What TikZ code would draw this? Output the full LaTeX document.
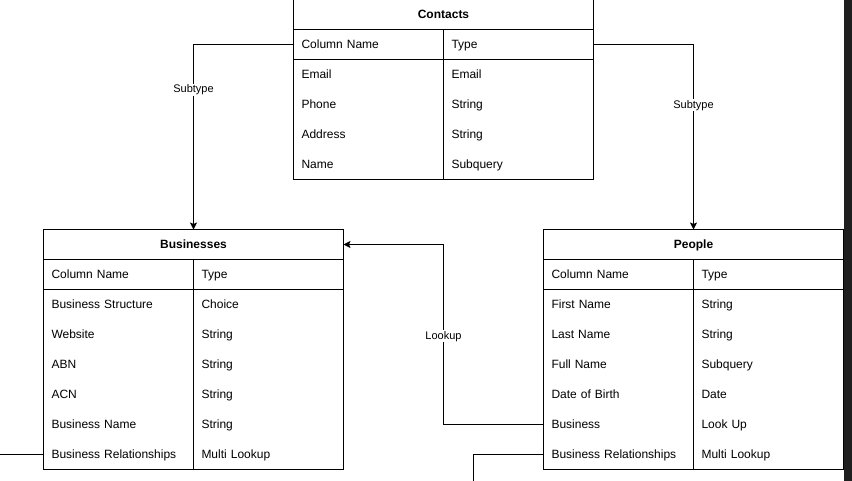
\documentclass[tikz,border=0pt]{standalone}
\usepackage{fontspec}
\setmainfont{Liberation Sans}
\usetikzlibrary{arrows.meta}
\definecolor{barcol}{HTML}{1F1F1F}
\newcommand{\cellstrut}{\rule[-2.4pt]{0pt}{13.4pt}}
\tikzset{
  every path/.style={line width=1pt},
  titlecell/.style={minimum width=300pt, minimum height=30pt, inner sep=0pt, outer sep=0pt, font=\fontsize{12}{14}\selectfont\bfseries, execute at begin node=\cellstrut},
  cell/.style={minimum width=150pt, minimum height=30pt, inner xsep=8pt, inner ysep=0pt, outer sep=0pt, text width=134pt, align=left, anchor=north west, font=\fontsize{12}{14}\selectfont, execute at begin node=\cellstrut},
  conn/.style={draw=black, line width=1pt, -{Stealth[length=7pt,width=7pt,inset=1.5pt]}},
  wire/.style={draw=black, line width=1pt},
  lbl/.style={fill=white, inner sep=1pt, font=\fontsize{11}{13}\selectfont}
}
\newcommand{\erdtable}[5]{%
  \node[titlecell] (#1) at (#2+150,#3+15) {#4};
  \node[cell] (#1-0-l) at (#2,#3+30) {Column Name};
  \node[cell] (#1-0-r) at (#2+150,#3+30) {Type};
  \foreach \a/\b [count=\i] in {#5} {
    \node[cell] (#1-\i-l) at (#2,#3+30+30*\i) {\a};
    \node[cell] (#1-\i-r) at (#2+150,#3+30+30*\i) {\b};
    \xdef\lastrow{\i}
  }
  \draw (#1.north west) rectangle (#1-\lastrow-r.south east);
  \draw (#1.south west) -- (#1.south east);
  \draw (#1-0-l.south west) -- (#1-0-r.south east);
  \draw (#1-0-r.north west) -- (#1-\lastrow-r.south west);
}
\begin{document}
\begin{tikzpicture}[x=1pt,y=-1pt]
\useasboundingbox (0,0) rectangle (852,481);
\erdtable{contacts}{293.5}{-0.5}{Contacts}{Email/Email, Phone/String, Address/String, Name/Subquery}
\erdtable{businesses}{43.5}{229.5}{Businesses}{Business Structure/Choice, Website/String, ABN/String, ACN/String, Business Name/String, Business Relationships/Multi Lookup}
\erdtable{people}{543.5}{229.5}{People}{First Name/String, Last Name/String, Full Name/Subquery, Date of Birth/Date, Business/Look Up, Business Relationships/Multi Lookup}
\draw[conn] (contacts-0-l.west) -| node[lbl, pos=0.622] {Subtype} (businesses.north);
\draw[conn] (contacts-0-r.east) -| node[lbl, pos=0.664] {Subtype} (people.north);
\draw[conn] (people-5-l.west) -- (people-5-l.west -| contacts-1-r.west) |- node[lbl, pos=0.245] {Lookup} (businesses.east);
\coordinate (bl) at (-2,454.5);
\coordinate (pr) at (473.5,484);
\draw[wire] (businesses-6-l.west) -- (bl);
\draw[wire] (people-6-l.west) -| (pr);
\fill[barcol] (844,-2) rectangle (854,483);
\end{tikzpicture}
\end{document}
